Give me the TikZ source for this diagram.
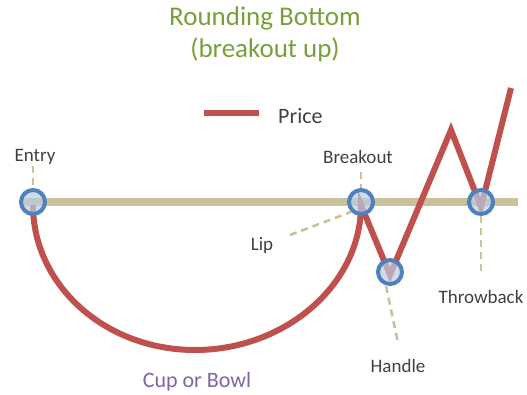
\documentclass[tikz,border=0pt]{standalone}
\usepackage{fontspec}
\setmainfont{Carlito}
\begin{document}
\begin{tikzpicture}[x=1pt,y=-1pt,
  txt/.style={text=labelgray,font=\fontsize{19}{22}\selectfont,inner sep=0pt},
  support/.style={draw=tanline,line width=8pt},
  guide/.style={draw=tanline,line width=2.6pt,dash pattern=on 7pt off 5pt},
  price/.style={draw=pricered,line width=6pt,line join=miter,miter limit=10}]
\definecolor{labelgray}{HTML}{404040}
\definecolor{tanline}{HTML}{C9C19A}
\definecolor{pricered}{HTML}{C0504D}
\definecolor{ringblue}{HTML}{4F81BD}
\definecolor{ringfill}{HTML}{B9CDE5}
\definecolor{titlegreen}{HTML}{77A03A}
\definecolor{cuppurple}{HTML}{8064A2}
\tikzset{ring/.style={circle,draw=ringblue,line width=4pt,fill=ringfill,fill opacity=0.7,draw opacity=1,minimum size=24pt,inner sep=0pt}}
\useasboundingbox (0,0) rectangle (527,394);
% title
\node[text=titlegreen,font=\fontsize{27}{30}\selectfont,inner sep=0pt] (t1) at (265,18) {Rounding Bottom};
\node[text=titlegreen,font=\fontsize{27}{30}\selectfont,inner sep=0pt] (t2) at (265,50) {(breakout up)};
% legend
\coordinate (lg1) at (204,113);
\coordinate (lg2) at (259,113);
\draw[price] (lg1) -- (lg2);
\node[txt,font=\fontsize{22}{26}\selectfont,anchor=west] (leg) at (278,116) {Price};
% support line
\coordinate (s1) at (20,202);
\coordinate (s2) at (518,202);
\draw[support] (s1) -- (s2);
% price path points
\coordinate (p0) at (33,205);
\coordinate (pb) at (195,350);
\coordinate (p1) at (361,205);
\coordinate (p2) at (390,275);
\coordinate (p3) at (451,130);
\coordinate (p4) at (481,207);
\coordinate (p5) at (511,88);
\draw[price] (p0) .. controls (33,285) and (105,350) .. (pb)
  .. controls (285,350) and (361,285) .. (p1) -- (p2) -- (p3) -- (p4) -- (p5);
% rings
\node[ring] (entry) at (33,202) {};
\node[ring] (brk) at (361,202) {};
\node[ring] (hdl) at (390,272) {};
\node[ring] (thr) at (481,202) {};
% labels
\node[txt] (lentry) at (35,157) {Entry};
\node[txt] (lbrk) at (358,157) {Breakout};
\node[txt] (llip) at (262,245) {Lip};
\node[txt] (lhdl) at (398,366) {Handle};
\node[txt] (lthr) at (481,297) {Throwback};
\node[text=cuppurple,font=\fontsize{22}{26}\selectfont,inner sep=0pt] (cup) at (197,382) {Cup or Bowl};
% guides
\coordinate (ge) at (33,166);
\coordinate (gb) at (361,172);
\coordinate (gl) at (290,235);
\coordinate (gh) at (398,343);
\coordinate (gt) at (481,272);
\draw[guide] (ge) -- (entry.north);
\draw[guide] (gb) -- (brk.north);
\draw[guide] (gl) -- (brk.south west);
\draw[guide] (hdl.south) ++(-4,0) coordinate (hs) (hs) -- (gh);
\draw[guide] (thr.south) -- (gt);
\end{tikzpicture}
\end{document}
